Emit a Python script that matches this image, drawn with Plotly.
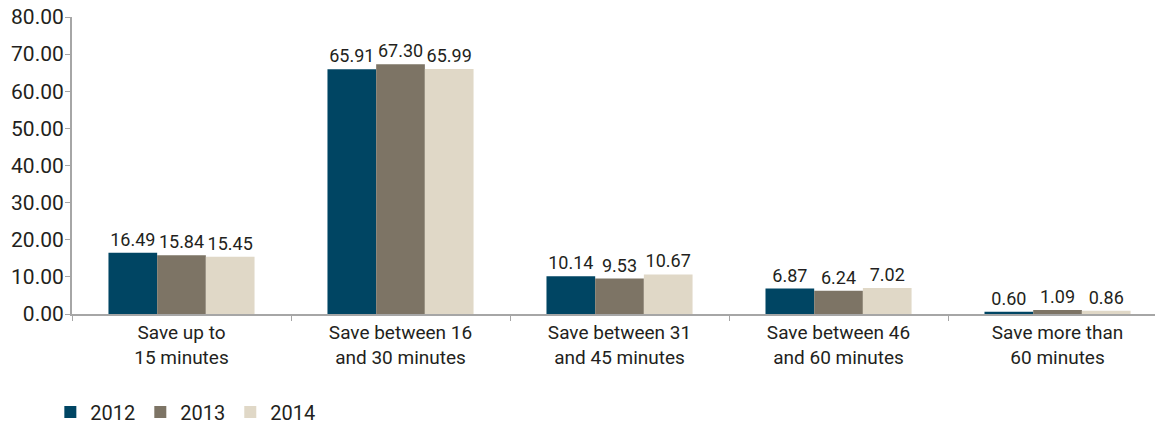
import plotly.graph_objects as go

categories = ["Save up to<br>15 minutes", "Save between 16<br>and 30 minutes",
              "Save between 31<br>and 45 minutes", "Save between 46<br>and 60 minutes",
              "Save more than<br>60 minutes"]
years = ["2012", "2013", "2014"]
v2012 = [16.49, 65.91, 10.14, 6.87, 0.60]
v2013 = [15.84, 67.30, 9.53, 6.24, 1.09]
v2014 = [15.45, 65.99, 10.67, 7.02, 0.86]
colors = ["#004563", "#7d7465", "#e0d8c7"]

FONT = "Roboto, Arial, sans-serif"
fig = go.Figure()
for name, vals, col in zip(years, [v2012, v2013, v2014], colors):
    fig.add_trace(go.Bar(
        x=categories, y=vals, name=name, marker=dict(color=col, line=dict(width=0)),
        text=[f"{v:.2f}" for v in vals], textposition="outside",
        textfont=dict(size=18, color="#231f20", family=FONT), cliponaxis=False,
    ))

fig.update_layout(
    width=1155, height=426,
    margin=dict(l=72, r=0, t=17, b=112, autoexpand=False),
    paper_bgcolor="white", plot_bgcolor="white",
    barmode="group", bargap=0.333, bargroupgap=0,
    font=dict(family=FONT, size=18, color="#231f20"),
    showlegend=True,
    legend=dict(orientation="h", xref="paper", yref="paper",
                x=-0.02, y=-0.33, xanchor="left", yanchor="middle",
                font=dict(size=20), itemwidth=30, tracegroupgap=0),
)
fig.update_xaxes(
    range=[-0.5, 4.445], showline=True, linecolor="#a6a6a6", linewidth=2,
    ticks="outside", tickson="boundaries", ticklen=5, tickcolor="#a6a6a6",
    tickfont=dict(size=19), showgrid=False, zeroline=False, automargin=False,
)
fig.update_yaxes(
    range=[0, 80], dtick=10, tickformat=".2f", showline=True, linecolor="#a6a6a6",
    linewidth=2, ticks="outside", ticklen=5, tickcolor="#a6a6a6",
    tickfont=dict(size=21), showgrid=False, zeroline=False, automargin=False,
    ticklabelstandoff=-3,
)
fig.write_html("out.html", config={"displayModeBar": False},
               post_script="document.body.style.margin='0';")
